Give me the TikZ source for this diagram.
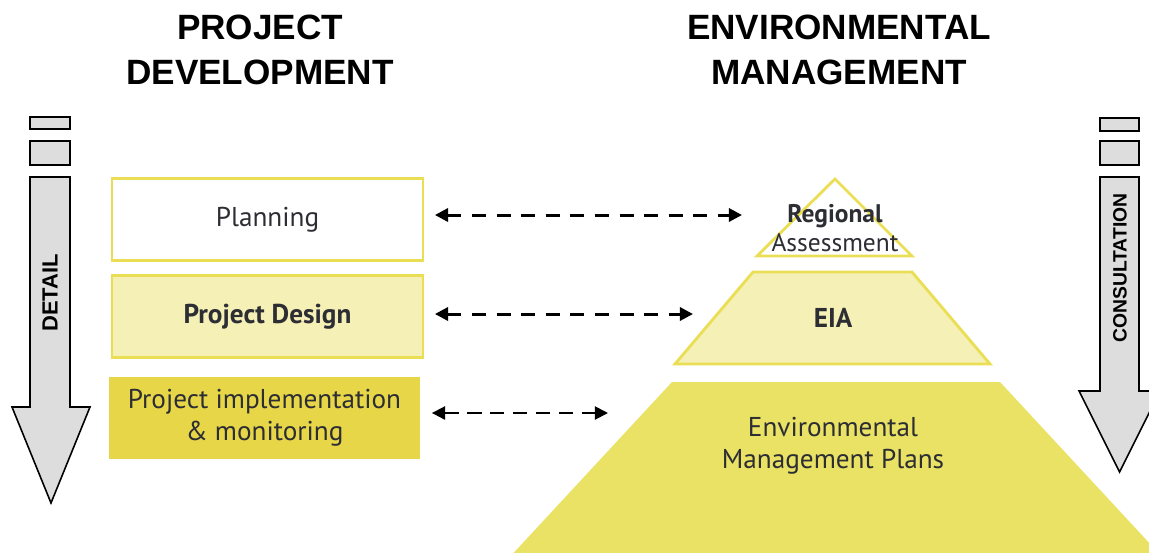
\documentclass[tikz,border=0pt]{standalone}
\usepackage{fontspec}
\setmainfont{PT Sans}
\newfontfamily\headfont{Liberation Sans}
\usetikzlibrary{arrows.meta}

\definecolor{edgeyellow}{RGB}{234,222,84}
\definecolor{paleyellow}{RGB}{245,240,182}
\definecolor{deepyellow}{RGB}{231,215,72}
\definecolor{baseyellow}{RGB}{233,226,100}
\definecolor{arrowgray}{RGB}{221,221,221}
\definecolor{textgray}{RGB}{45,45,52}

\begin{document}
\begin{tikzpicture}[x=0.02cm,y=-0.02cm,>={Triangle[length=7.5pt,width=7.5pt]},
	heading/.style={font=\headfont\bfseries\fontsize{20}{26}\selectfont, align=center},
	stage/.style={minimum width=6.22cm, minimum height=1.64cm, align=center,
		text=textgray, font=\fontsize{15.5}{18}\selectfont, line width=1.6pt},
	level/.style={text=textgray, align=center, font=\fontsize{15.5}{18}\selectfont},
	link/.style={<->, dashed, line width=1.7pt, dash pattern=on 8pt off 6pt},
	sidearrow/.style={fill=arrowgray, draw=black, line width=0.9pt},
	sidelabel/.style={rotate=90, font=\headfont\bfseries\fontsize{12.5}{14}\selectfont}]
	
	\clip (0,0) rectangle (1149,552);
	
	%----------------------------
	% Headings
	%----------------------------
	\node[heading] (devhead) at (260,50) {PROJECT\\DEVELOPMENT};
	\node[heading] (envhead) at (839,50) {ENVIRONMENTAL\\MANAGEMENT};
	
	%----------------------------
	% Left: project development stages
	%----------------------------
	\node[stage, fill=white, draw=edgeyellow] (plan) at (267.5,219.5) {Planning};
	\node[stage, fill=paleyellow, draw=edgeyellow, font=\bfseries\fontsize{15.5}{18}\selectfont]
	(design) at (267.5,316.5) {Project Design};
	\node[stage, fill=deepyellow] (impl) at (264.5,417.5)
	{Project implementation\\ \& monitoring};
	
	%----------------------------
	% Right: environmental management pyramid
	%----------------------------
	% top: regional assessment
	\draw[fill=white, draw=edgeyellow, line width=1.6pt]
	(835,179) -- (912,256) -- (757,256) -- cycle;
	\node[level, font=\fontsize{14.5}{16.5}\selectfont] (regional) at (835,228)
	{\textbf{Regional}\\Assessment};
	
	% middle: EIA
	\draw[fill=paleyellow, draw=edgeyellow, line width=1.6pt]
	(753,272) -- (912,272) -- (990,364) -- (675,364) -- cycle;
	\node[level, font=\bfseries\fontsize{15.5}{18}\selectfont] (eia) at (833,318) {EIA};
	
	% bottom: management plans
	\fill[baseyellow] (672,382) -- (1000,382) -- (1165,560) -- (507,560) -- cycle;
	\node[level] (emp) at (833,446) {Environmental\\Management Plans};
	
	%----------------------------
	% Dashed links between both sides
	%----------------------------
	\coordinate (reg-w) at (742,215);
	\coordinate (eia-w) at (693,314);
	\coordinate (emp-w) at (608,413);
	
	\draw[link, shorten <=6pt] (plan.east |- reg-w) -- (reg-w);
	\draw[link, shorten <=6pt] (design.east |- eia-w) -- (eia-w);
	\draw[link, shorten <=6pt, line width=1.1pt, dash pattern=on 8pt off 5pt]
	(impl.east |- emp-w) -- (emp-w);
	
	%----------------------------
	% Side arrows: detail and consultation
	%----------------------------
	\draw[sidearrow] (30,117) rectangle (70,129);
	\draw[sidearrow] (30,141) rectangle (70,165);
	\draw[sidearrow] (30,177) -- (70,177) -- (70,407) -- (90,407)
	-- (51,503) -- (12,407) -- (30,407) -- cycle;
	\node[sidelabel] (detail) at (50,293) {DETAIL};
	
	\draw[sidearrow] (1100,118) rectangle (1139,131);
	\draw[sidearrow] (1100,141) rectangle (1139,165);
	\draw[sidearrow] (1100,177) -- (1139,177) -- (1139,391) -- (1160,391)
	-- (1119.5,472) -- (1079,391) -- (1100,391) -- cycle;
	\node[sidelabel, font=\headfont\bfseries\fontsize{11}{13}\selectfont] (consult)
	at (1120,268) {CONSULTATION};
	
\end{tikzpicture}
\end{document}
